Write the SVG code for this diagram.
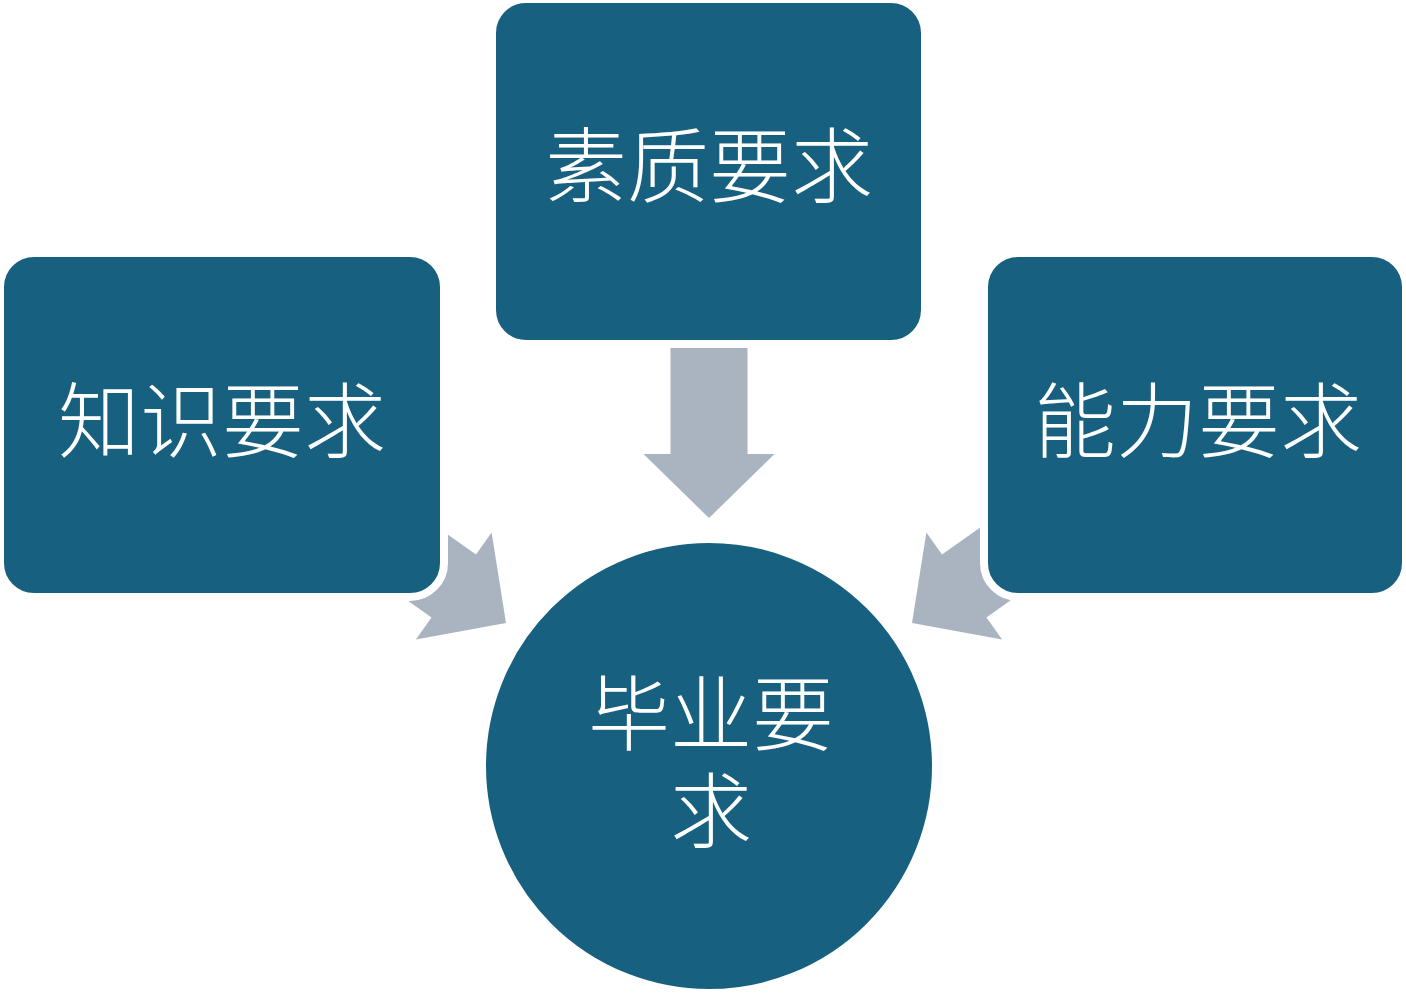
<svg xmlns="http://www.w3.org/2000/svg" width="1406" height="995" viewBox="0 0 1406 995">
<style>
.box{fill:#17607F;stroke:#FFFFFF;stroke-width:8}
.arrow{fill:#AAB4C0}
.t{fill:#FFFFFF;font-family:"Liberation Serif","Noto Sans CJK SC",serif;font-size:82px;text-anchor:middle;font-weight:300}
</style>
<defs>
<path id="arr" d="M-38.5,-170 L38.5,-170 L38.5,-64 L65.5,-64 L0,0 L-65.5,-64 L-38.5,-64 Z"/>
</defs>
<rect width="1406" height="995" fill="#FFFFFF"/>
<g id="connectors">
<use href="#arr" class="arrow" transform="translate(709,518)"/>
<use href="#arr" class="arrow" transform="translate(506,623) rotate(-54.7)"/>
<use href="#arr" class="arrow" transform="translate(912,623) rotate(54.7)"/>
</g>
<g id="knowledge">
<rect class="box" x="0" y="253" width="444" height="344" rx="34"/>
<text class="t" x="222" y="451">知识要求</text>
</g>
<g id="quality">
<rect class="box" x="492" y="-1" width="433" height="345" rx="34"/>
<text class="t" x="709" y="196">素质要求</text>
</g>
<g id="ability">
<rect class="box" x="984" y="253" width="422" height="344" rx="34"/>
<text class="t" x="1198" y="451">能力要求</text>
</g>
<g id="graduation">
<circle class="box" cx="709" cy="766" r="227"/>
<text class="t" x="711" y="744">毕业要</text>
<text class="t" x="711" y="841">求</text>
</g>
</svg>
